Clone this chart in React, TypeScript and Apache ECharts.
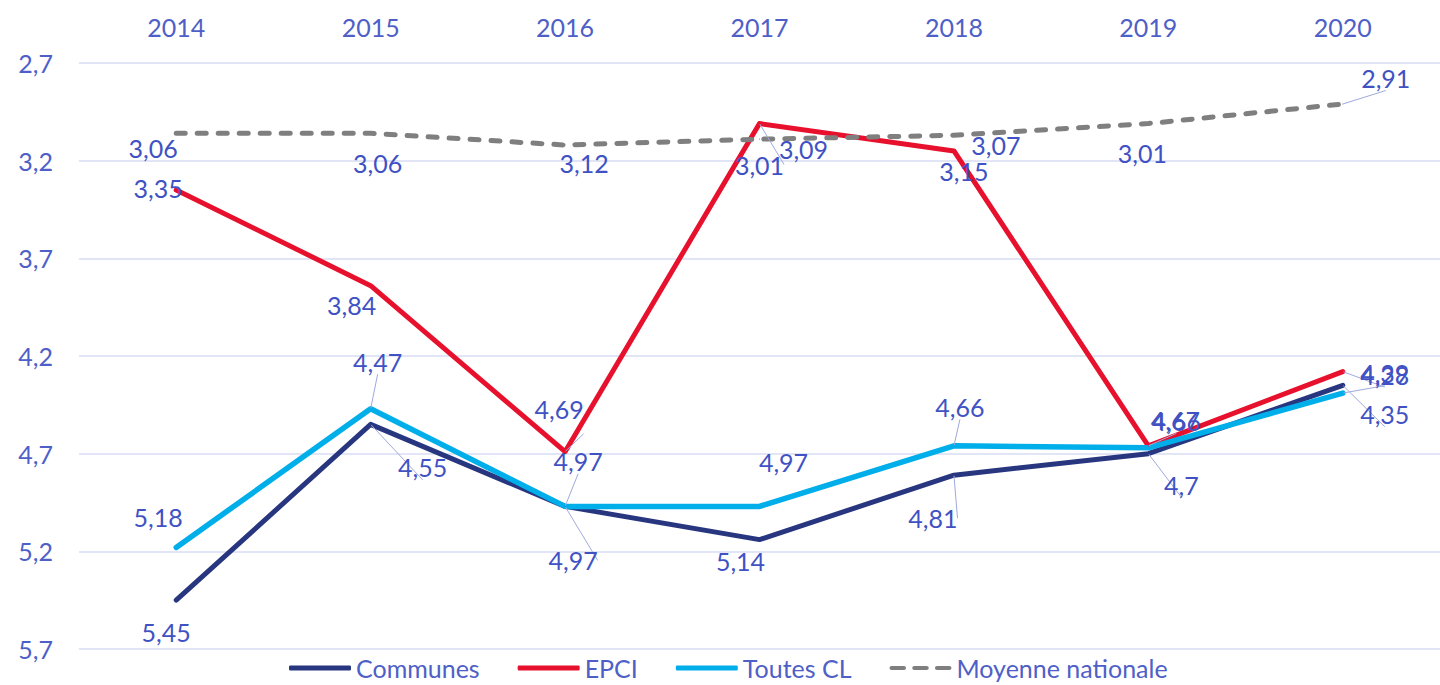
import React, { useEffect, useRef } from "react";
import * as echarts from "echarts";

const years = ["2014", "2015", "2016", "2017", "2018", "2019", "2020"];
const communes = [5.45, 4.55, 4.97, 5.14, 4.81, 4.7, 4.35];
const epci = [3.35, 3.84, 4.69, 3.01, 3.15, 4.66, 4.28];
const toutesCL = [5.18, 4.47, 4.97, 4.97, 4.66, 4.67, 4.39];
const moyenne = [3.06, 3.06, 3.12, 3.09, 3.07, 3.01, 2.91];
const yTickLabels = ["2,7", "3,2", "3,7", "4,2", "4,7", "5,2", "5,7"];
const yMin = 2.7;
const yMax = 5.7;

// label placement (offset from point, px) and leader-line flags
const communesOffsets = [[-10, 32], [52, 43], [8, 54], [-19, 21], [-21, 43], [33, 31], [42, 29]];
const epciOffsets = [[-18, -2], [-19, 19], [-6, -43], [0, 41], [10, 20], [28, -25], [42, 3]];
const toutesOffsets = [[-18, -30], [7, -47], [13, -45], [24, -44], [6, -39], [27, -28], [42, -20]];
const moyenneOffsets = [[-23, 15], [7, 30], [19, 18], [44, 10], [42, 10], [-6, 29], [43, -26]];
const communesLeaders = [false, true, true, false, true, true, true];
const epciLeaders = [false, false, true, true, false, true, true];
const toutesLeaders = [false, true, true, false, true, false, true];
const moyenneLeaders = [false, false, false, false, false, false, true];

const FONT = "Lato";
const FS = 25;
const LABEL_COLOR = "#4052C3";
const AXIS_COLOR = "#4E60C7";

function buildData(values: number[], offsets: number[][], leaders: boolean[]) {
  return values.map((v, i) => ({
    value: v,
    label: { offset: offsets[i] },
    labelLine: { show: leaders[i] },
  }));
}

function makeSeries(name: string, values: number[], offsets: number[][], leaders: boolean[], color: string, width: number, dashed: boolean) {
  return {
    name,
    type: "line",
    yAxisIndex: 0,
    data: buildData(values, offsets, leaders),
    symbol: "circle",
    symbolSize: 1,
    showSymbol: true,
    itemStyle: { color },
    lineStyle: {
      color,
      width,
      type: dashed ? [9, 12] : "solid",
      cap: "round",
      join: "round",
    },
    label: {
      show: true,
      position: "inside",
      color: LABEL_COLOR,
      fontFamily: FONT,
      fontSize: FS,
      formatter: (p: any) => String(p.value).replace(".", ","),
    },
    labelLine: {
      show: false,
      lineStyle: { color: "#9FA9DD", width: 1 },
    },
    emphasis: { disabled: true },
    z: 2,
  };
}

export default function App() {
  const ref = useRef<HTMLDivElement>(null);
  useEffect(() => {
    document.body.style.margin = "0";
    if (!ref.current) return;
    const chart = echarts.init(ref.current, null, { renderer: "svg" });
    const solidIcon = "roundRect";
    const dashIcon = "path://M2,0H14A2,2 0 0 1 14,4H2A2,2 0 0 1 2,0Z M24,0H36A2,2 0 0 1 36,4H24A2,2 0 0 1 24,0Z M46,0H58A2,2 0 0 1 58,4H46A2,2 0 0 1 46,0Z";
    chart.setOption({
      animation: false,
      backgroundColor: "#ffffff",
      grid: { left: 79, top: 63, width: 1385, height: 586, containLabel: false },
      xAxis: {
        type: "category",
        data: years,
        position: "top",
        boundaryGap: true,
        axisLine: { show: false },
        axisTick: { show: false },
        axisLabel: { color: AXIS_COLOR, fontFamily: FONT, fontSize: FS, margin: 24 },
        splitLine: { show: false },
      },
      yAxis: [
        {
          type: "value",
          min: yMin,
          max: yMax,
          inverse: true,
          show: false,
        },
        {
          type: "category",
          data: yTickLabels,
          inverse: true,
          boundaryGap: false,
          position: "left",
          axisLine: { show: false },
          axisTick: { show: false },
          axisLabel: { color: AXIS_COLOR, fontFamily: FONT, fontSize: FS, margin: 26 },
          splitLine: { show: true, lineStyle: { color: "#D9DCF2", width: 1.5 } },
        },
      ],
      legend: {
        top: 653,
        left: 284,
        padding: [0, 5, 0, 5],
        itemWidth: 62,
        itemHeight: 5,
        itemGap: 38,
        textStyle: { color: AXIS_COLOR, fontFamily: FONT, fontSize: FS, lineHeight: 30 },
        data: [
          { name: "Communes", icon: solidIcon },
          { name: "EPCI", icon: solidIcon },
          { name: "Toutes CL", icon: solidIcon },
          { name: "Moyenne nationale", icon: dashIcon },
        ],
      },
      series: [
        makeSeries("Communes", communes, communesOffsets, communesLeaders, "#283680", 5, false),
        makeSeries("EPCI", epci, epciOffsets, epciLeaders, "#E8112D", 5, false),
        makeSeries("Toutes CL", toutesCL, toutesOffsets, toutesLeaders, "#00AEEA", 5.5, false),
        makeSeries("Moyenne nationale", moyenne, moyenneOffsets, moyenneLeaders, "#7F7F7F", 5, true),
      ],
    });
    return () => chart.dispose();
  }, []);
  return <div ref={ref} style={{ width: 1440, height: 685 }} />;
}
